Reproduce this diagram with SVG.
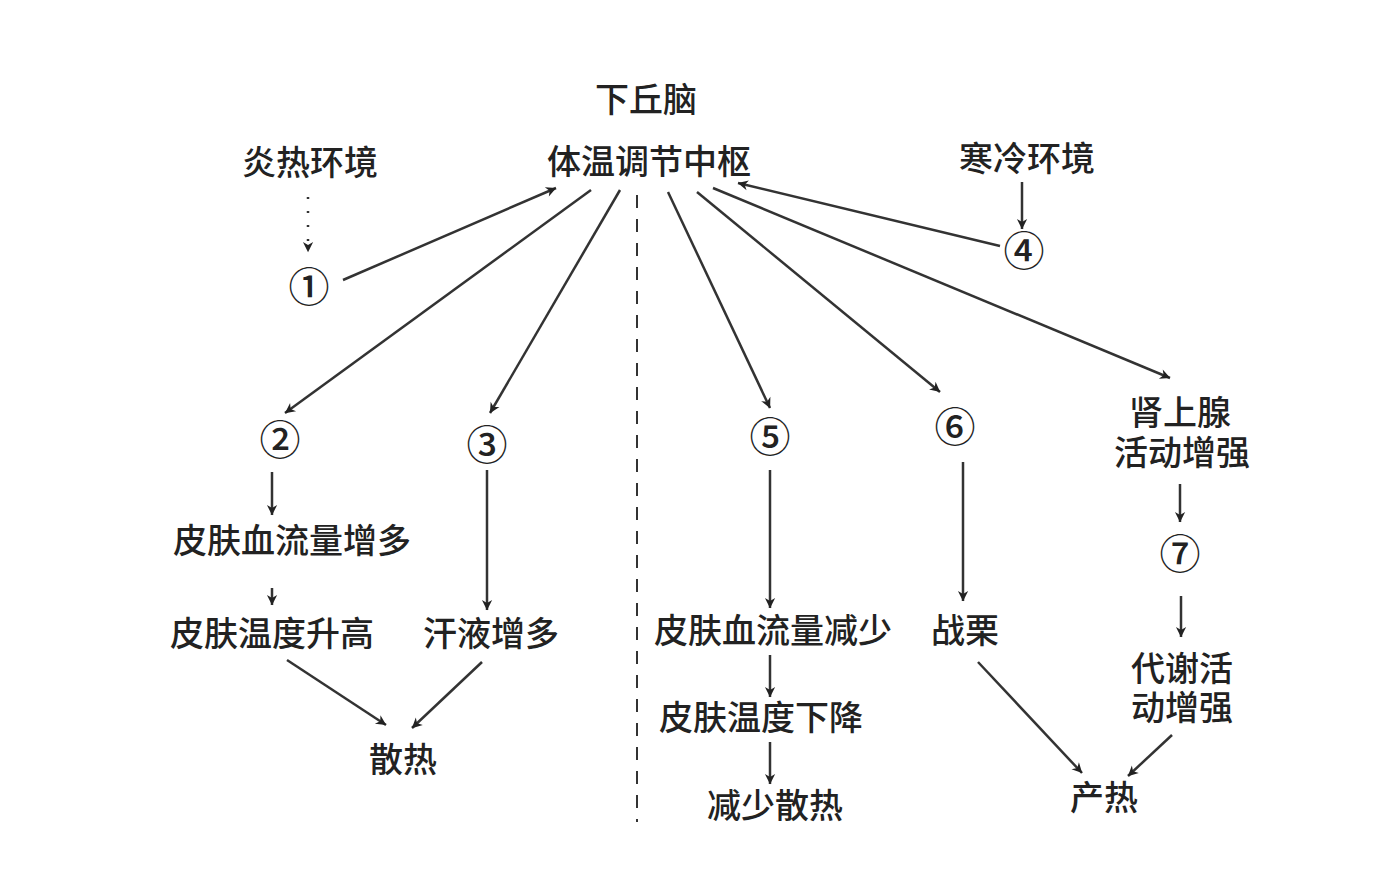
<svg xmlns="http://www.w3.org/2000/svg" width="1382" height="886" viewBox="0 0 1382 886">
<style>
.t{font-family:"Noto Sans CJK SC","Noto Sans CJK JP",sans-serif;fill:#222;text-anchor:middle;font-size:34px;font-weight:500}
.n{font-family:"Noto Sans CJK SC","Noto Sans CJK JP",sans-serif;fill:#222;text-anchor:middle;font-size:41px;font-weight:500}
.c{stroke:#333;stroke-width:2.5;fill:none;marker-end:url(#ah)}
.d{stroke:#333;stroke-width:2;stroke-dasharray:13 11;fill:none}
</style>
<defs>
<marker id="ah" viewBox="0 0 10 10" refX="9" refY="5" markerWidth="6" markerHeight="6" markerUnits="userSpaceOnUse" orient="auto" style="overflow:visible">
<path d="M0,0 L10,5 L0,10 L3,5 Z" fill="#222" transform="scale(1.7) translate(-4.5,-2.1)"/>
</marker>
</defs>
<rect width="1382" height="886" fill="#fff"/>
<g id="connectors">
<line class="d" x1="637" y1="195" x2="637" y2="822"/>
<line class="c" x1="308" y1="197" x2="308" y2="252" stroke-dasharray="2 12"/>
<line class="c" x1="343" y1="280" x2="556" y2="188"/>
<line class="c" x1="591" y1="190" x2="285" y2="413"/>
<line class="c" x1="620" y1="190" x2="490" y2="413"/>
<line class="c" x1="668" y1="192" x2="770" y2="408"/>
<line class="c" x1="697" y1="192" x2="940" y2="392"/>
<line class="c" x1="713" y1="188" x2="1170" y2="378"/>
<line class="c" x1="1000" y1="246" x2="738" y2="183"/>
<line class="c" x1="1022" y1="182" x2="1022" y2="229"/>
<line class="c" x1="272" y1="472" x2="272" y2="515"/>
<line class="c" x1="272" y1="588" x2="272" y2="605"/>
<line class="c" x1="487" y1="470" x2="487" y2="610"/>
<line class="c" x1="287" y1="660" x2="386" y2="725"/>
<line class="c" x1="482" y1="662" x2="412" y2="728"/>
<line class="c" x1="770" y1="470" x2="770" y2="608"/>
<line class="c" x1="770" y1="655" x2="770" y2="697"/>
<line class="c" x1="770" y1="742" x2="770" y2="784"/>
<line class="c" x1="963" y1="462" x2="963" y2="601"/>
<line class="c" x1="1180" y1="484" x2="1180" y2="522"/>
<line class="c" x1="1181" y1="596" x2="1181" y2="637"/>
<line class="c" x1="978" y1="662" x2="1082" y2="773"/>
<line class="c" x1="1172" y1="735" x2="1128" y2="776"/>
</g>
<g id="n-hypothalamus"><text class="t" x="646" y="112" font-size="32">下丘脑</text><text class="t" x="649" y="174" font-size="36">体温调节中枢</text></g>
<g id="n-hot"><text class="t" x="310" y="175">炎热环境</text></g>
<g id="n-cold"><text class="t" x="1027" y="171">寒冷环境</text></g>
<g id="n1"><text class="n" x="309" y="302">①</text></g>
<g id="n4"><text class="n" x="1024" y="266">④</text></g>
<g id="n2"><text class="n" x="280" y="455">②</text></g>
<g id="n3"><text class="n" x="487" y="460">③</text></g>
<g id="n5"><text class="n" x="770" y="452">⑤</text></g>
<g id="n6"><text class="n" x="955" y="442">⑥</text></g>
<g id="n7"><text class="n" x="1180" y="569">⑦</text></g>
<g id="n-adrenal"><text class="t"><tspan x="1180" y="425">肾上腺</tspan><tspan x="1182" y="465">活动增强</tspan></text></g>
<g id="n-bloodup"><text class="t" x="292" y="553">皮肤血流量增多</text></g>
<g id="n-tempup"><text class="t" x="272" y="646">皮肤温度升高</text></g>
<g id="n-sweat"><text class="t" x="491" y="646">汗液增多</text></g>
<g id="n-dissipate"><text class="t" x="403" y="772">散热</text></g>
<g id="n-blooddown"><text class="t" x="773" y="643">皮肤血流量减少</text></g>
<g id="n-tempdown"><text class="t" x="761" y="730">皮肤温度下降</text></g>
<g id="n-lessdiss"><text class="t" x="775" y="818">减少散热</text></g>
<g id="n-shiver"><text class="t" x="965" y="643">战栗</text></g>
<g id="n-metab"><text class="t"><tspan x="1182" y="681">代谢活</tspan><tspan x="1182" y="720">动增强</tspan></text></g>
<g id="n-heat"><text class="t" x="1104" y="810">产热</text></g>
</svg>
